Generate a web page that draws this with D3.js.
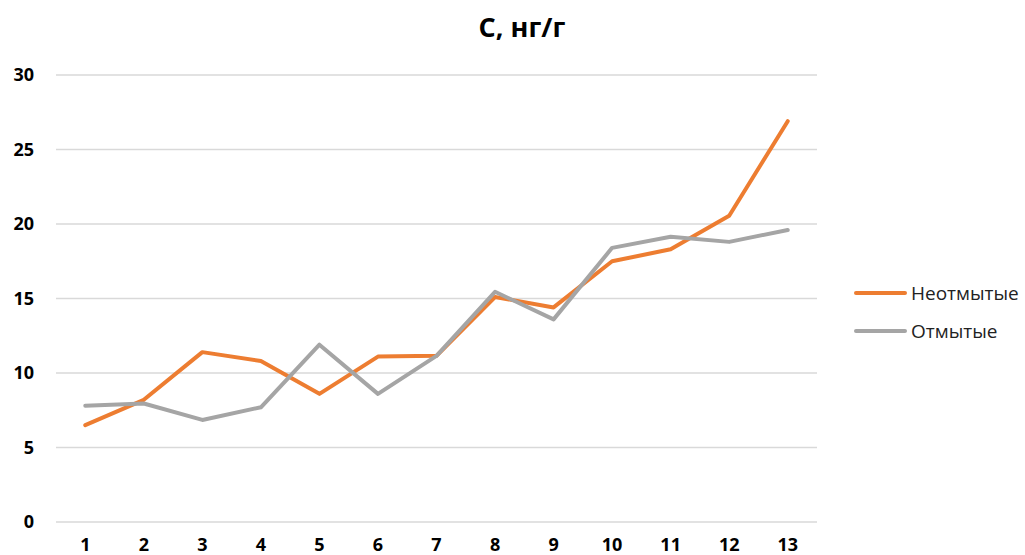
<!DOCTYPE html>
<html>
<head>
<meta charset="utf-8">
<script src="https://cdn.jsdelivr.net/npm/d3@7"></script>
<style>
  body { margin: 0; background: #fff; }
  svg { font-family: "Open Sans", "Noto Sans", sans-serif; }
</style>
</head>
<body>
<div id="chart"></div>
<script>
// data
const categories = ["1", "2", "3", "4", "5", "6", "7", "8", "9", "10", "11", "12", "13"];
const unwashed = [6.5, 8.2, 11.4, 10.8, 8.6, 11.1, 11.15, 15.1, 14.4, 17.5, 18.3, 20.55, 26.9];
const washed = [7.8, 7.95, 6.85, 7.7, 11.9, 8.6, 11.15, 15.45, 13.6, 18.4, 19.15, 18.8, 19.6];
const yTicks = [0, 5, 10, 15, 20, 25, 30];
const seriesNames = ["Неотмытые", "Отмытые"];

const width = 1025, height = 555;
const margin = {top: 75, right: 208, bottom: 33, left: 56};

const svg = d3.select("#chart").append("svg")
    .attr("width", width)
    .attr("height", height);

const x = d3.scaleBand()
    .domain(categories)
    .range([margin.left, width - margin.right]);

const y = d3.scaleLinear()
    .domain([0, 30])
    .range([height - margin.bottom, margin.top]);

// title
svg.append("text")
    .attr("x", 522)
    .attr("y", 37)
    .attr("text-anchor", "middle")
    .style("font-size", "27px")
    .style("font-weight", "bold")
    .text("С, нг/г");

// gridlines
svg.append("g")
    .selectAll("line")
    .data(yTicks)
    .join("line")
    .attr("x1", margin.left)
    .attr("x2", width - margin.right)
    .attr("y1", d => y(d))
    .attr("y2", d => y(d))
    .attr("stroke", "#d9d9d9")
    .attr("stroke-width", 1.5);

// y axis labels
const yAxis = svg.append("g")
    .attr("transform", "translate(" + (margin.left - 22) + ",0)")
    .call(d3.axisLeft(y).tickValues(yTicks).tickSize(0).tickPadding(0));
yAxis.select(".domain").remove();
yAxis.selectAll("text")
    .style("font-size", "18px")
    .style("font-weight", "bold")
    .style("font-family", "'Open Sans', sans-serif")
    .attr("fill", "#000");

// x axis labels
const xAxis = svg.append("g")
    .attr("transform", "translate(0," + (height - margin.bottom) + ")")
    .call(d3.axisBottom(x).tickSize(0).tickPadding(16));
xAxis.select(".domain").remove();
xAxis.selectAll("text")
    .style("font-size", "18px")
    .style("font-weight", "bold")
    .style("font-family", "'Open Sans', sans-serif")
    .attr("fill", "#000");

// lines
const line = d3.line()
    .x((d, i) => x(categories[i]) + x.bandwidth() / 2)
    .y(d => y(d));

const series = [
    {name: seriesNames[0], values: unwashed, color: "#ed7d31"},
    {name: seriesNames[1], values: washed, color: "#a5a5a5"}
];

svg.selectAll(".series")
    .data(series)
    .join("path")
    .attr("class", "series")
    .attr("d", d => line(d.values))
    .attr("fill", "none")
    .attr("stroke", d => d.color)
    .attr("stroke-width", 4)
    .attr("stroke-linejoin", "round")
    .attr("stroke-linecap", "round");

// legend
const legend = svg.append("g")
    .selectAll("g")
    .data(series)
    .join("g")
    .attr("transform", (d, i) => "translate(856," + (293 + i * 38) + ")");

legend.append("line")
    .attr("x1", 0)
    .attr("x2", 49)
    .attr("stroke", d => d.color)
    .attr("stroke-width", 4)
    .attr("stroke-linecap", "round");

legend.append("text")
    .attr("x", 55)
    .attr("dy", "0.35em")
    .style("font-size", "19px")
    .attr("fill", "#222")
    .text(d => d.name);
</script>
</body>
</html>
